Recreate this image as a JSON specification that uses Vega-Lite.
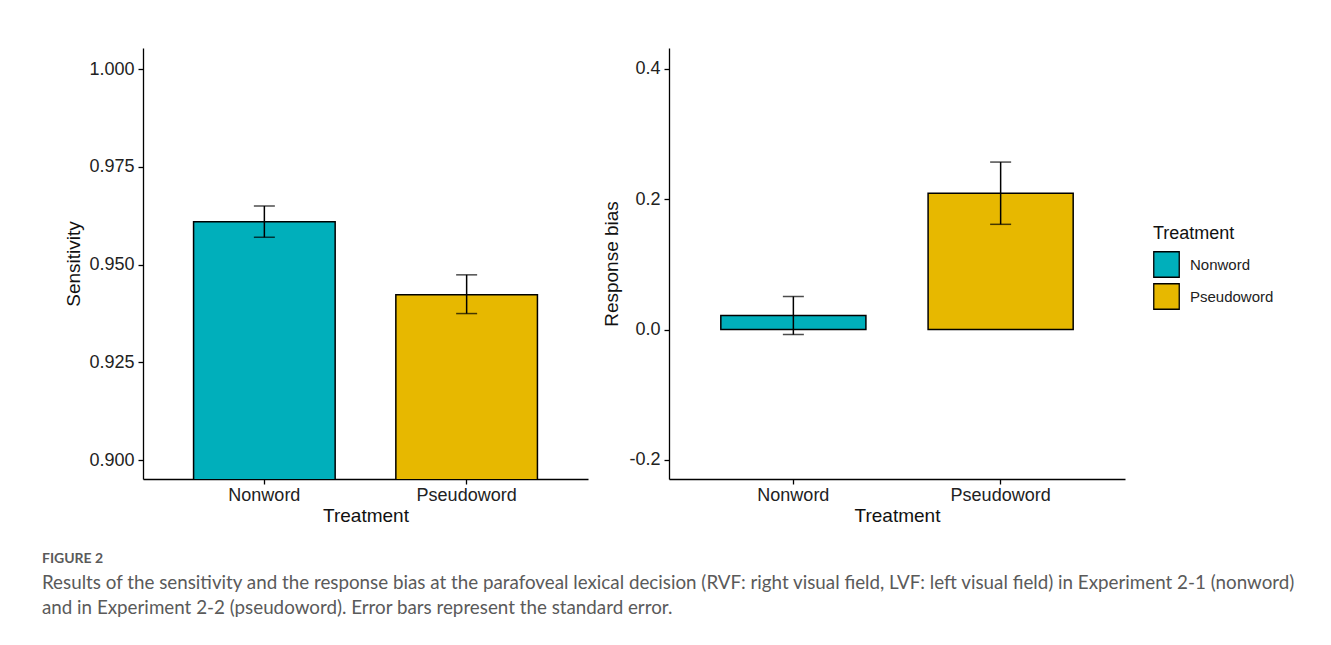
{
  "$schema": "https://vega.github.io/schema/vega-lite/v6.json",
  "background": "white",
  "padding": {"left": 41, "top": 48, "right": 5, "bottom": 5},
  "datasets": {
    "sens": [
      {"Treatment": "Nonword", "mean": 0.961, "lo": 0.957, "hi": 0.965},
      {"Treatment": "Pseudoword", "mean": 0.9423, "lo": 0.9375, "hi": 0.9474}
    ],
    "bias": [
      {"Treatment": "Nonword", "mean": 0.0215, "lo": -0.0077, "hi": 0.0508},
      {"Treatment": "Pseudoword", "mean": 0.209, "lo": 0.1615, "hi": 0.257}
    ]
  },
  "title": {
    "text": "FIGURE 2",
    "subtitle": [
      "Results of the sensitivity and the response bias at the parafoveal lexical decision (RVF: right visual field, LVF: left visual field) in Experiment 2-1 (nonword)",
      "and in Experiment 2-2 (pseudoword). Error bars represent the standard error."
    ],
    "orient": "bottom",
    "anchor": "start",
    "frame": "bounds",
    "offset": 27,
    "dx": -23,
    "font": "Lato",
    "fontSize": 14,
    "fontWeight": "bold",
    "color": "#5a5a5a",
    "subtitleFont": "Lato",
    "subtitleFontSize": 18.8,
    "subtitleFontWeight": "normal",
    "subtitleColor": "#5a5a5a",
    "subtitleLineHeight": 25,
    "subtitlePadding": 8
  },
  "hconcat": [
    {
      "width": 445,
      "height": 431,
      "data": {"name": "sens"},
      "layer": [
        {
          "mark": {"type": "bar", "stroke": "black", "strokeWidth": 1.5, "clip": true},
          "encoding": {
            "x": {"field": "Treatment", "type": "nominal", "scale": {"paddingInner": 0.3, "paddingOuter": 0.25}, "axis": {"title": "Treatment", "labelAngle": 0}},
            "y": {"field": "mean", "type": "quantitative", "title": "Sensitivity", "scale": {"domain": [0.8952, 1.0054], "zero": false, "nice": false}, "axis": {"title": "Sensitivity", "values": [0.9, 0.925, 0.95, 0.975, 1.0], "format": ".3f"}},
            "color": {"field": "Treatment", "type": "nominal", "scale": {"domain": ["Nonword", "Pseudoword"], "range": ["#00AFBB", "#E7B800"]}, "legend": {"title": "Treatment"}}
          }
        },
        {
          "mark": {"type": "errorbar", "ticks": {"size": 21, "thickness": 1.5, "color": "black"}, "rule": {"strokeWidth": 1.5, "color": "black"}},
          "encoding": {
            "x": {"field": "Treatment", "type": "nominal", "title": "Treatment"},
            "y": {"field": "lo", "type": "quantitative", "title": "Sensitivity"},
            "y2": {"field": "hi"}
          }
        }
      ]
    },
    {
      "width": 456,
      "height": 431,
      "data": {"name": "bias"},
      "layer": [
        {
          "mark": {"type": "bar", "stroke": "black", "strokeWidth": 1.5, "clip": true},
          "encoding": {
            "x": {"field": "Treatment", "type": "nominal", "scale": {"paddingInner": 0.3, "paddingOuter": 0.25}, "axis": {"title": "Treatment", "labelAngle": 0}},
            "y": {"field": "mean", "type": "quantitative", "title": "Response bias", "scale": {"domain": [-0.2292, 0.432], "zero": false, "nice": false}, "axis": {"title": "Response bias", "values": [-0.2, 0.0, 0.2, 0.4], "format": ".1f", "labelExpr": "replace(datum.label, '\u2212', '-')", "titlePadding": 7}},
            "color": {"field": "Treatment", "type": "nominal", "scale": {"domain": ["Nonword", "Pseudoword"], "range": ["#00AFBB", "#E7B800"]}, "legend": {"title": "Treatment"}}
          }
        },
        {
          "mark": {"type": "errorbar", "ticks": {"size": 21, "thickness": 1.5, "color": "black"}, "rule": {"strokeWidth": 1.5, "color": "black"}},
          "encoding": {
            "x": {"field": "Treatment", "type": "nominal", "title": "Treatment"},
            "y": {"field": "lo", "type": "quantitative", "title": "Response bias"},
            "y2": {"field": "hi"}
          }
        }
      ]
    }
  ],
  "spacing": 14,
  "resolve": {"scale": {"color": "shared"}},
  "config": {
    "view": {"stroke": null},
    "font": "Liberation Sans",
    "axis": {
      "grid": false,
      "domainColor": "black",
      "domainWidth": 1.3,
      "tickColor": "black",
      "tickWidth": 1.3,
      "tickSize": 5,
      "labelFont": "Liberation Sans",
      "labelFontSize": 18,
      "labelColor": "#222222",
      "labelPadding": 4,
      "titleFont": "Liberation Sans",
      "titleFontSize": 19,
      "titleFontWeight": "normal",
      "titleColor": "#111111",
      "titlePadding": 5
    },
    "axisX": {"labelPadding": 2, "titlePadding": 2},
    "legend": {
      "orient": "none",
      "legendX": 1010,
      "legendY": 177,
      "titleFont": "Liberation Sans",
      "titleFontSize": 18,
      "titleFontWeight": "normal",
      "titleColor": "#111111",
      "titlePadding": 8,
      "labelFont": "Liberation Sans",
      "labelFontSize": 15,
      "labelColor": "#222222",
      "labelOffset": 10,
      "symbolType": "square",
      "symbolSize": 650,
      "symbolStrokeColor": "black",
      "symbolStrokeWidth": 1.3,
      "symbolOpacity": 1,
      "rowPadding": 1
    }
  }
}
